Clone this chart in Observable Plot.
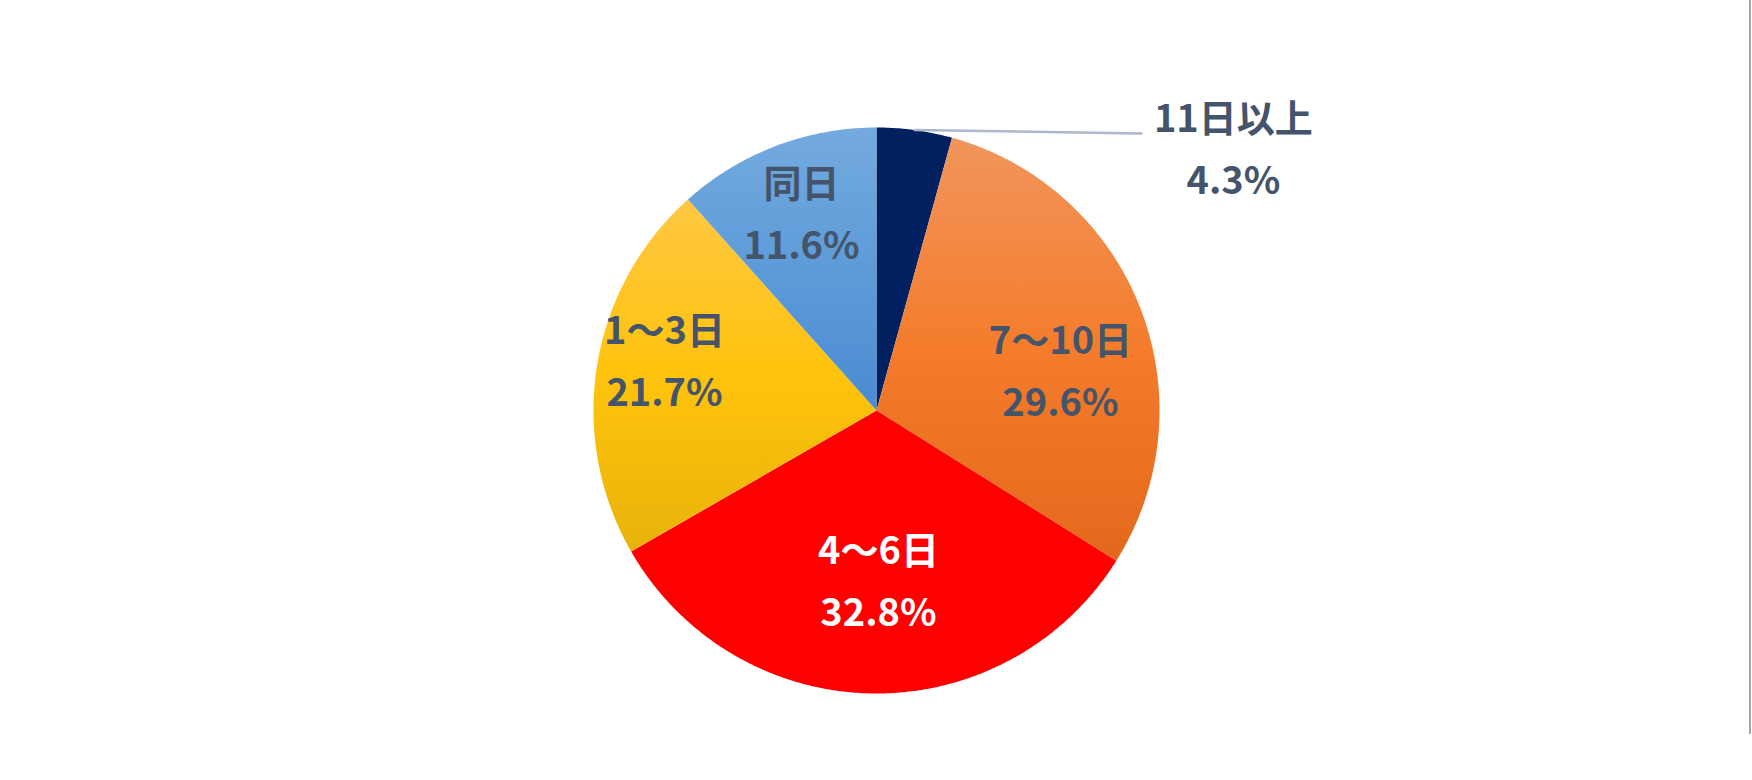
<!DOCTYPE html>
<html><head><meta charset="utf-8">
<script src="https://cdn.jsdelivr.net/npm/d3@7"></script>
<script src="https://cdn.jsdelivr.net/npm/@observablehq/plot@0.6"></script>
<style>
body{margin:0;background:#fff;}
#wrap{position:relative;width:1752px;height:780px;overflow:hidden;}
#edge{position:absolute;left:1749px;top:0;width:2px;height:734px;background:#a6a6a6;}
</style></head><body><div id="wrap"><div id="edge"></div></div>
<script>
// ---- data ----
const categories = ["11日以上", "7～10日", "4～6日", "1～3日", "同日"];
const shares = [4.3, 29.6, 32.8, 21.7, 11.6];
const percentLabels = ["4.3%", "29.6%", "32.8%", "21.7%", "11.6%"];

// ---- layout / style ----
const W = 1752, H = 780, CX = 876, CY = 410, R = 283;
const fills = ["#002060", "url(#gOrange)", "#ff0000", "url(#gYellow)", "url(#gBlue)"];
const textColors = ["#44546a", "#44546a", "#ffffff", "#44546a", "#44546a"];
// label anchors in pie-radius units (x right, y up from centre)
const labelAt = [[1.261, 0.919], [0.650, 0.134], [0.007, -0.608], [-0.749, 0.170], [-0.265, 0.689]];
const leaderEnd = [0.936, 0.979];
const FONT = "'Noto Sans CJK JP', 'Noto Sans', sans-serif";

// ---- geometry from data ----
const total = d3.sum(shares);
let acc = 0;
const slices = categories.map((c, i) => {
  const a0 = acc / total * 2 * Math.PI; acc += shares[i];
  const a1 = acc / total * 2 * Math.PI;
  return {c, i, a0, a1, mid: (a0 + a1) / 2};
});
const pts = [];
for (const s of slices) {
  pts.push({c: s.c, x: 0, y: 0});
  const n = Math.max(2, Math.ceil((s.a1 - s.a0) / (Math.PI / 360)));
  for (let k = 0; k <= n; k++) {
    const a = s.a0 + (s.a1 - s.a0) * k / n;
    pts.push({c: s.c, x: Math.sin(a), y: Math.cos(a)});
  }
  pts.push({c: s.c, x: 0, y: 0});
}
const labels = slices.map(s => ({
  text: categories[s.i] + "\n" + percentLabels[s.i],
  x: labelAt[s.i][0], y: labelAt[s.i][1], color: textColors[s.i]
}));
const leader = [
  {x: Math.sin(slices[0].mid), y: Math.cos(slices[0].mid)},
  {x: leaderEnd[0], y: leaderEnd[1]}
];

const textOpts = {x: "x", y: "y", text: "text", fontSize: 38, fontWeight: "bold",
  lineHeight: 1.63, fontFamily: FONT, dy: -7};

const chart = Plot.plot({
  width: W, height: H,
  margin: 0,
  x: {domain: [-CX / R, (W - CX) / R], axis: null},
  y: {domain: [-(H - CY) / R, CY / R], axis: null},
  color: {type: "ordinal", domain: categories, range: fills},
  style: {background: "transparent", fontFamily: FONT},
  marks: [
    Plot.line(pts, {x: "x", y: "y", z: "c", fill: "c", stroke: "none", curve: "linear"}),
    Plot.line(leader, {x: "x", y: "y", stroke: "#adb9ca", strokeWidth: 2.5}),
    Plot.text(labels.filter(d => d.color !== "#ffffff"), {...textOpts, fill: "#44546a"}),
    Plot.text(labels.filter(d => d.color === "#ffffff"), {...textOpts, fill: "#ffffff"})
  ]
});

// gradient definitions
const defs = d3.select(chart).insert("defs", ":first-child");
function grad(id, stops) {
  const g = defs.append("linearGradient").attr("id", id).attr("x1", 0).attr("y1", 0).attr("x2", 0).attr("y2", 1);
  for (const [o, c] of stops) g.append("stop").attr("offset", o).attr("stop-color", c);
}
grad("gOrange", [["0%", "#f1955c"], ["50%", "#f47c2b"], ["100%", "#e3681c"]]);
grad("gYellow", [["0%", "#ffc843"], ["50%", "#ffc30c"], ["100%", "#e8b30a"]]);
grad("gBlue", [["0%", "#74aadf"], ["50%", "#5d9bd8"], ["100%", "#4a8bd1"]]);

document.getElementById("wrap").appendChild(chart);
</script>
</body></html>
